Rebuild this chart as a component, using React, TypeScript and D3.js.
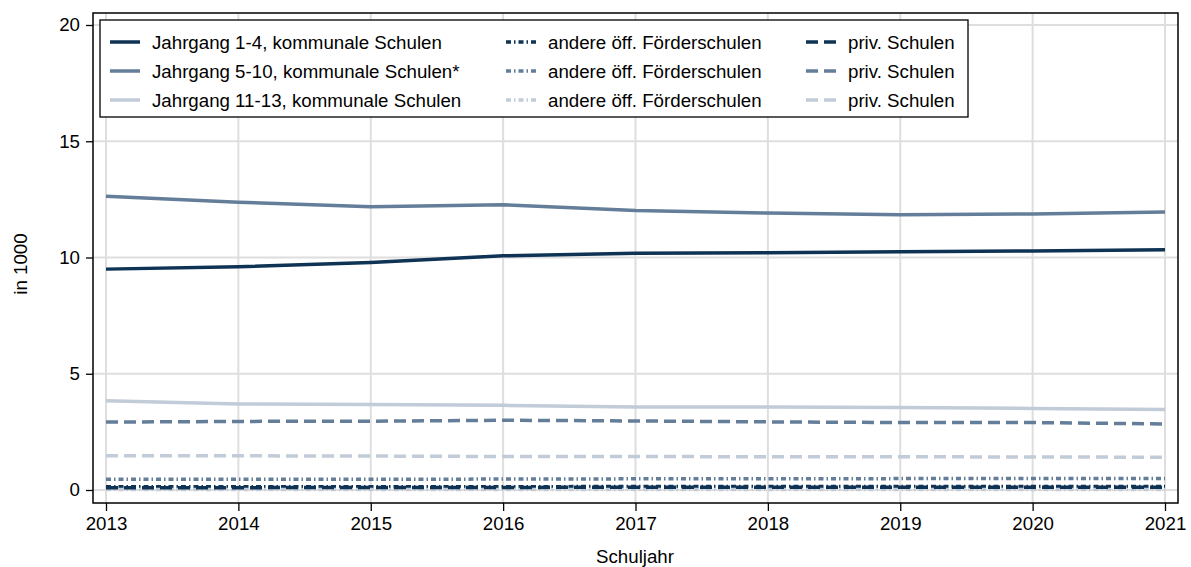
import React, { useEffect, useRef } from "react";
import * as d3 from "d3";

const years = [2013, 2014, 2015, 2016, 2017, 2018, 2019, 2020, 2021];

const jg14Kommunal = [9.5, 9.6, 9.78, 10.07, 10.18, 10.2, 10.25, 10.28, 10.33];
const jg510Kommunal = [12.63, 12.38, 12.18, 12.27, 12.02, 11.91, 11.84, 11.87, 11.96];
const jg1113Kommunal = [3.84, 3.7, 3.68, 3.64, 3.57, 3.57, 3.55, 3.51, 3.46];

const jg14Foerder = [0.14, 0.14, 0.14, 0.14, 0.15, 0.15, 0.15, 0.15, 0.15];
const jg510Foerder = [0.46, 0.46, 0.46, 0.47, 0.48, 0.48, 0.49, 0.5, 0.5];
const jg1113Foerder = [0.02, 0.02, 0.02, 0.02, 0.02, 0.02, 0.02, 0.02, 0.02];

const jg14Priv = [0.1, 0.1, 0.11, 0.11, 0.12, 0.12, 0.12, 0.12, 0.12];
const jg510Priv = [2.92, 2.95, 2.96, 3.0, 2.97, 2.93, 2.9, 2.9, 2.84];
const jg1113Priv = [1.47, 1.47, 1.46, 1.44, 1.44, 1.43, 1.43, 1.42, 1.41];

const yTicks = [0, 5, 10, 15, 20];

const dark = "#0e3354";
const mid = "#647e9a";
const light = "#c2cbd8";

const series = [
  { name: "Jahrgang 1-4, kommunale Schulen", values: jg14Kommunal, color: dark, dash: null },
  { name: "Jahrgang 5-10, kommunale Schulen*", values: jg510Kommunal, color: mid, dash: null },
  { name: "Jahrgang 11-13, kommunale Schulen", values: jg1113Kommunal, color: light, dash: null },
  { name: "andere öff. Förderschulen", values: jg14Foerder, color: dark, dash: "5,3,1.5,3" },
  { name: "andere öff. Förderschulen", values: jg510Foerder, color: mid, dash: "5,3,1.5,3" },
  { name: "andere öff. Förderschulen", values: jg1113Foerder, color: light, dash: "5,3,1.5,3" },
  { name: "priv. Schulen", values: jg14Priv, color: dark, dash: "12,6" },
  { name: "priv. Schulen", values: jg510Priv, color: mid, dash: "12,6" },
  { name: "priv. Schulen", values: jg1113Priv, color: light, dash: "12,6" },
];

const App = () => {
  const ref = useRef(null);
  const width = 1191;
  const height = 567;
  const plot = { left: 93, right: 1178, top: 13, bottom: 503 };
  const font = "'Liberation Sans', Arial, sans-serif";
  const fs = 18.7;

  useEffect(() => {
    ref.current.innerHTML = null;
    const svg = d3.select(ref.current);

    const x = d3.scaleLinear().domain([2013, 2021]).range([106, 1165]);
    const y = d3.scaleLinear().domain([0, 20]).range([490, 25]);

    // grid
    svg.append("g").selectAll("line").data(years).enter().append("line")
      .attr("x1", (d) => x(d)).attr("x2", (d) => x(d))
      .attr("y1", plot.top).attr("y2", plot.bottom)
      .attr("stroke", "#dedede").attr("stroke-width", 2);
    svg.append("g").selectAll("line").data(yTicks).enter().append("line")
      .attr("x1", plot.left).attr("x2", plot.right)
      .attr("y1", (d) => y(d)).attr("y2", (d) => y(d))
      .attr("stroke", "#dedede").attr("stroke-width", 2);

    // lines
    const line = d3.line().x((d, i) => x(years[i])).y((d) => y(d));
    series.forEach((s) => {
      svg.append("path")
        .datum(s.values)
        .attr("d", line)
        .attr("fill", "none")
        .attr("stroke", s.color)
        .attr("stroke-width", 3.5)
        .attr("stroke-dasharray", s.dash);
    });

    // frame
    svg.append("rect")
      .attr("x", plot.left).attr("y", plot.top)
      .attr("width", plot.right - plot.left).attr("height", plot.bottom - plot.top)
      .attr("fill", "none").attr("stroke", "#000").attr("stroke-width", 1.5);

    // axes
    const yAxis = svg.append("g")
      .attr("transform", "translate(" + plot.left + ",0)")
      .call(d3.axisLeft(y).tickValues(yTicks).tickSize(7).tickPadding(6).tickFormat(d3.format("d")));
    const xAxis = svg.append("g")
      .attr("transform", "translate(0," + plot.bottom + ")")
      .call(d3.axisBottom(x).tickValues(years).tickSize(8).tickPadding(6).tickFormat(d3.format("d")));
    [yAxis, xAxis].forEach((a) => {
      a.select(".domain").remove();
      a.selectAll("line").attr("stroke", "#000").attr("stroke-width", 1.3);
      a.selectAll("text").attr("font-family", font).attr("font-size", fs).attr("fill", "#000");
    });

    svg.append("text")
      .attr("x", 635).attr("y", 563)
      .attr("text-anchor", "middle")
      .attr("font-family", font).attr("font-size", fs)
      .text("Schuljahr");
    svg.append("text")
      .attr("transform", "translate(27,264) rotate(-90)")
      .attr("text-anchor", "middle")
      .attr("font-family", font).attr("font-size", fs)
      .text("in 1000");

    // legend
    const legend = svg.append("g");
    legend.append("rect")
      .attr("x", 100).attr("y", 20).attr("width", 868).attr("height", 97)
      .attr("fill", "#fff").attr("stroke", "#000").attr("stroke-width", 1.3);
    const colX = [110, 506, 806];
    const rowY = [42, 71, 100];
    series.forEach((s, i) => {
      const c = Math.floor(i / 3);
      const r = i % 3;
      const g = legend.append("g");
      g.append("line")
        .attr("x1", colX[c]).attr("x2", colX[c] + 30)
        .attr("y1", rowY[r]).attr("y2", rowY[r])
        .attr("stroke", s.color).attr("stroke-width", 3.5)
        .attr("stroke-dasharray", s.dash);
      g.append("text")
        .attr("x", colX[c] + 42).attr("y", rowY[r]).attr("dy", "0.35em")
        .attr("font-family", font).attr("font-size", fs)
        .text(s.name);
    });
  }, []);

  return (
    <svg width={width} height={height} style={{ position: "absolute", left: 0, top: 0, background: "#fff" }}>
      <g ref={ref} />
    </svg>
  );
};

export default App;
